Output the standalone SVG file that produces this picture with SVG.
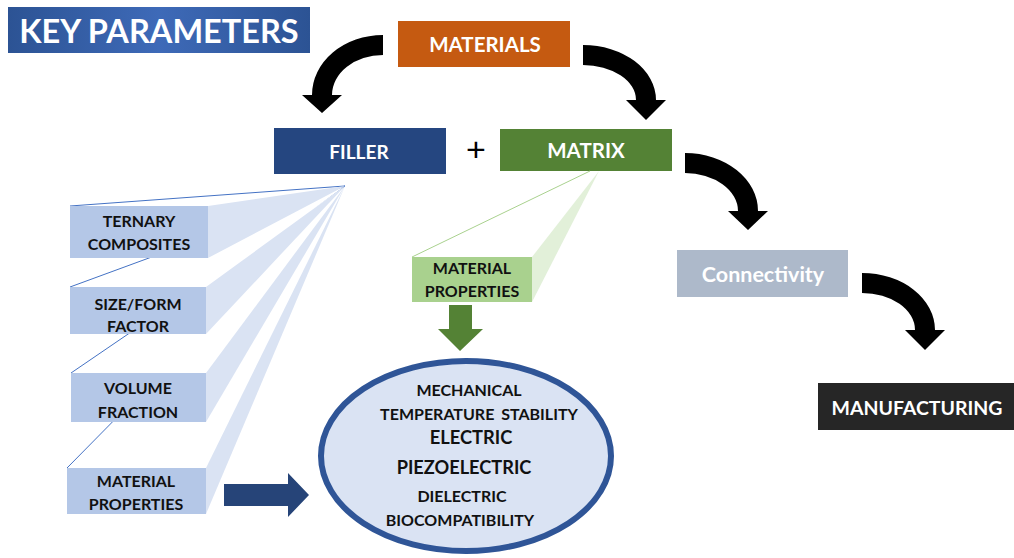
<svg xmlns="http://www.w3.org/2000/svg" width="1014" height="558" viewBox="0 0 1014 558">
<defs>
<linearGradient id="kpGrad" x1="0" y1="0" x2="1" y2="0">
<stop offset="0" stop-color="#2c5394"/>
<stop offset="0.5" stop-color="#3e6ab8"/>
<stop offset="1" stop-color="#2c5394"/>
</linearGradient>
<style>
.t{font-family:Lato,"Open Sans","Liberation Sans",sans-serif;font-weight:bold;text-anchor:middle}
.w{fill:#ffffff}
.k{fill:#111111}
.blk{fill:#000000}
.lb{fill:#b4c7e7}
.bt{font-size:16px}
.wedgeB{fill:#dae3f3}
.wedgeG{fill:#e2f0d9}
.topB{fill:#ffffff;stroke:none}
.lineB{stroke:#4472c4;stroke-width:1;fill:none}
.lineG{stroke:#a9d18e;stroke-width:1;fill:none}
</style>
</defs>
<rect width="1014" height="558" fill="#ffffff"/>

<g id="title">
<rect x="8" y="7" width="302" height="46" fill="url(#kpGrad)"/>
<text class="t w" x="159" y="43" font-size="32.5">KEY PARAMETERS</text>
</g>

<g id="materials">
<rect x="398" y="21" width="172" height="46" fill="#c55a11"/>
<text class="t w" x="485" y="52" font-size="20.5">MATERIALS</text>
</g>

<g id="filler">
<rect x="274" y="128" width="172" height="46" fill="#254680"/>
<text class="t w" x="359" y="159" font-size="19">FILLER</text>
</g>

<g id="plus">
<text x="476" y="161" font-family="Liberation Sans, sans-serif" font-size="34" text-anchor="middle" fill="#000">+</text>
</g>

<g id="matrix">
<rect x="500" y="129" width="172" height="42" fill="#548235"/>
<text class="t w" x="586" y="158" font-size="20.5">MATRIX</text>
</g>

<g id="connectivity">
<rect x="677" y="250" width="171" height="47" fill="#adb9ca"/>
<text class="t w" x="763" y="282" font-size="21.5">Connectivity</text>
</g>

<g id="manufacturing">
<rect x="818" y="383" width="196" height="47" fill="#262626"/>
<text class="t w" x="917" y="415" font-size="19.5">MANUFACTURING</text>
</g>

<g id="filler-props">
<polygon class="topB" points="67,468 206,468 345,186"/>
<line class="lineB" x1="67" y1="468" x2="345" y2="186"/>
<polygon class="wedgeB" points="206,468 206,514 345,186"/>
<rect class="lb" x="67" y="468" width="139" height="46"/>
<text class="t k bt" x="136" y="487">MATERIAL</text>
<text class="t k bt" x="136" y="510">PROPERTIES</text>
</g>

<g id="volume">
<polygon class="topB" points="71,373 206,373 345,186"/>
<line class="lineB" x1="71" y1="373" x2="345" y2="186"/>
<polygon class="wedgeB" points="206,373 206,422 345,186"/>
<rect class="lb" x="71" y="373" width="135" height="49"/>
<text class="t k bt" x="138" y="394">VOLUME</text>
<text class="t k bt" x="138" y="418">FRACTION</text>
</g>

<g id="sizeform">
<polygon class="topB" points="70,287 206,287 345,186"/>
<line class="lineB" x1="70" y1="287" x2="345" y2="186"/>
<polygon class="wedgeB" points="206,287 206,334 345,186"/>
<rect class="lb" x="70" y="287" width="136" height="47"/>
<text class="t k bt" x="138" y="310">SIZE/FORM</text>
<text class="t k bt" x="138" y="332">FACTOR</text>
</g>

<g id="ternary">
<polygon class="topB" points="70,206 208,206 345,186"/>
<line class="lineB" x1="70" y1="206" x2="345" y2="186"/>
<polygon class="wedgeB" points="208,206 208,258 345,186"/>
<rect class="lb" x="70" y="206" width="138" height="52"/>
<text class="t k bt" x="139" y="227">TERNARY</text>
<text class="t k bt" x="139" y="250">COMPOSITES</text>
</g>

<g id="matrix-props">
<line class="lineG" x1="412" y1="257" x2="590" y2="171"/>
<polygon class="wedgeG" points="532,257 532,302 599,171"/>
<rect x="412" y="257" width="120" height="45" fill="#a9d18e"/>
<text class="t k bt" x="472" y="274">MATERIAL</text>
<text class="t k bt" x="472" y="297">PROPERTIES</text>
</g>

<g id="properties">
<ellipse cx="466" cy="456" rx="145" ry="95" fill="#dae3f3" stroke="#2f5597" stroke-width="6"/>
<text class="t k" x="469" y="396" font-size="16">MECHANICAL</text>
<text class="t k" x="479" y="420" font-size="16" word-spacing="3">TEMPERATURE STABILITY</text>
<text class="t k" x="471" y="444" font-size="18.3">ELECTRIC</text>
<text class="t k" x="464" y="474" font-size="18.2">PIEZOELECTRIC</text>
<text class="t k" x="462" y="502" font-size="16">DIELECTRIC</text>
<text class="t k" x="460" y="526" font-size="16">BIOCOMPATIBILITY</text>
</g>

<g id="connectors">
<path class="blk" d="M383,35 A71,60 0 0 0 312,95 L302,95 L322,113 L342,95 L332,95 A51,40 0 0 1 383,55 Z"/>
<path class="blk" d="M583,45 A73,55 0 0 1 656,100 L666,100 L646,120 L626,100 L636,100 A53,35 0 0 0 583,65 Z"/>
<path class="blk" d="M685,153 A73,58 0 0 1 758,211 L768,211 L748,230 L728,211 L738,211 A53,38 0 0 0 685,173 Z"/>
<path class="blk" d="M862,273 A73,57 0 0 1 935,330 L945,330 L925,350 L905,330 L915,330 A53,37 0 0 0 862,293 Z"/>
<polygon fill="#548235" points="449,305 472,305 472,329 483,329 460,351 438,329 449,329"/>
<polygon fill="#264478" points="224,484 288,484 288,473 309,495 288,517 288,506 224,506"/>
</g>
</svg>
